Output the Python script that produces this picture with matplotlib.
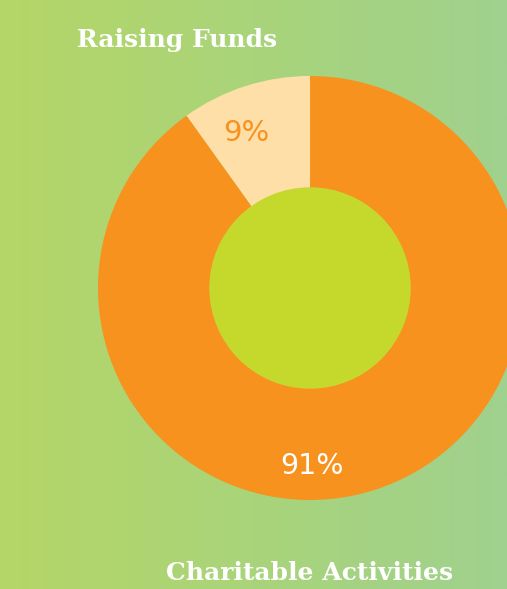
import numpy as np
import matplotlib
matplotlib.use("Agg")
import matplotlib.pyplot as plt
from matplotlib.colors import LinearSegmentedColormap

categories = ["Raising Funds", "Charitable Activities"]
values = [9.9, 90.1]
value_labels = ["9%", "91%"]
colors = ["#fedfa8", "#f7921e"]
label_colors = ["#f7921e", "white"]

W, H = 507, 589
fig = plt.figure(figsize=(W / 100, H / 100), dpi=100)
ax = fig.add_axes([0, 0, 1, 1])

# background gradient
cmap = LinearSegmentedColormap.from_list("bg", ["#b5d667", "#a9d47a", "#a0d18e"])
grad = np.linspace(0, 1, 256).reshape(1, -1)
ax.imshow(grad, cmap=cmap, extent=[0, W, 0, H], aspect="auto", zorder=0)

cx, cy = 310, H - 288
R, r = 212, 100
wedges, _ = ax.pie(values, colors=colors, startangle=90, counterclock=True,
                   radius=R, center=(cx, cy),
                   wedgeprops=dict(width=R - r, linewidth=0), frame=True)
ax.set_xlim(0, W)
ax.set_ylim(0, H)
ax.set_aspect("auto")
ax.axis("off")
ax.add_patch(plt.Circle((cx, cy), r, color="#c5d92d", zorder=5))

# value labels
ax.text(246, H - 133, value_labels[0], color=label_colors[0], fontsize=21,
        ha="center", va="center", family="DejaVu Sans", zorder=6)
ax.text(312, H - 466, value_labels[1], color=label_colors[1], fontsize=20.5,
        ha="center", va="center", family="DejaVu Sans", zorder=6)

# category labels
ax.text(177, H - 40, categories[0], color="white", fontsize=18, fontweight="bold",
        ha="center", va="center", family="DejaVu Serif", zorder=6)
ax.text(310, H - 573, categories[1], color="white", fontsize=18, fontweight="bold",
        ha="center", va="center", family="DejaVu Serif", zorder=6)

fig.savefig("out.png", dpi=100)
